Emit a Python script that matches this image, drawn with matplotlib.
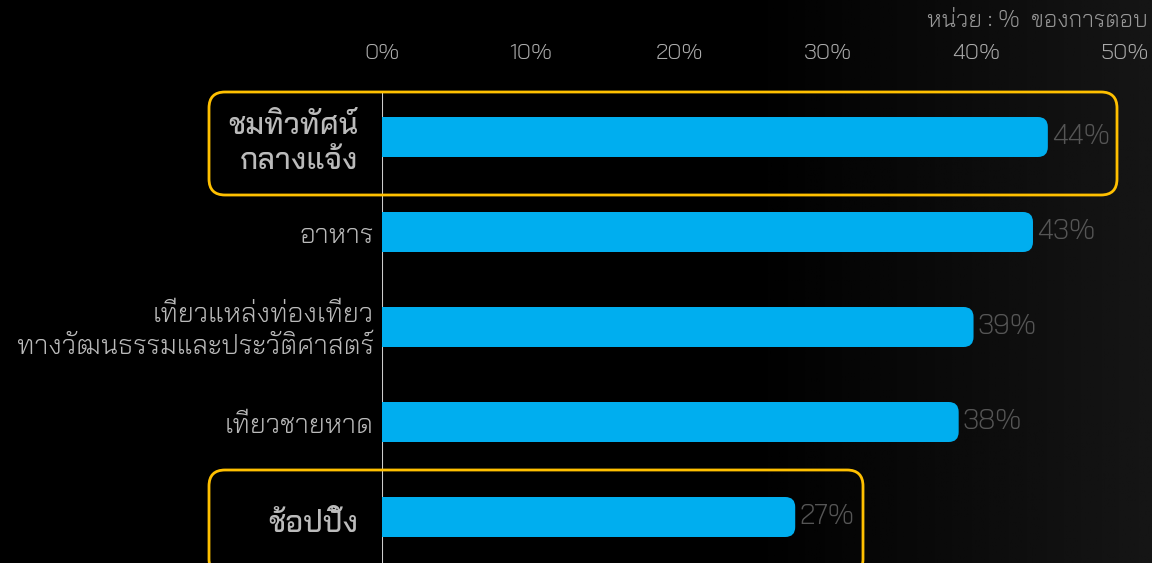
import numpy as np
import matplotlib
matplotlib.use("Agg")
import matplotlib.pyplot as plt
from matplotlib.patches import FancyBboxPatch, Rectangle

# data
categories = ["ชมทิวทัศน์\nกลางแจ้ง", "อาหาร",
              "เที่ยวแหล่งท่องเที่ยว\nทางวัฒนธรรมและประวัติศาสตร์",
              "เที่ยวชายหาด", "ช้อปปิ้ง"]
values = [44, 43, 39, 38, 27]
highlight = [True, False, False, False, True]
ticks = [0, 10, 20, 30, 40, 50]
tick_labels = ["0%", "10%", "20%", "30%", "40%", "50%"]
unit_text = "หน่วย : %  ของการตอบ"

plt.rcParams["font.family"] = ["Bai Jamjuree", "DejaVu Sans"]

W, H = 1152, 563
fig = plt.figure(figsize=(W / 100, H / 100), dpi=100)
fig.patch.set_facecolor("black")

# background: black on the left, fading to dark grey on the right
bg = fig.add_axes([0, 0, 1, 1], zorder=-5)
g = np.clip((np.linspace(0, 1, 400) - 0.65) / 0.35, 0, 1) * 0.085
bg.imshow(np.tile(g, (2, 1)), cmap="gray", vmin=0, vmax=1, aspect="auto",
          extent=[0, 1, 0, 1])
bg.axis("off")

x0, x1 = 382, 1125          # pixel positions of 0% and 50%
top = 92
ax = fig.add_axes([x0 / W, 0, (x1 - x0) / W, 1 - top / H])
ax.set_facecolor("none")
ax.set_xlim(0, 50)
ax.set_ylim((H - 137) / 95.0, (top - 137) / 95.0)

px_x = (x1 - x0) / 50.0     # pixels per % unit
px_y = 95.0                 # pixels per category
bh = 40 / px_y
cap = 12 / px_x             # rounded end overshoot
r = 10 / px_x
blue = "#00AEEF"

for i, v in enumerate(values):
    end = v + cap
    ax.add_patch(FancyBboxPatch((0, i - bh / 2), end, bh,
                                boxstyle=f"round,pad=0,rounding_size={r}",
                                mutation_aspect=px_x / px_y,
                                fc=blue, ec="none", zorder=3))
    ax.add_patch(Rectangle((0, i - bh / 2), end / 2, bh, fc=blue, ec="none", zorder=3))
    ax.text(end + 4 / px_x, i, f"{v}%", va="center", ha="left",
            fontsize=20, fontweight=300, color="#555555", zorder=4)

ax.axvline(0, color="#cccccc", lw=1.5, zorder=2)

ax.xaxis.tick_top()
ax.set_xticks(ticks)
ax.set_xticklabels(tick_labels, fontweight=300)
ax.tick_params(axis="x", length=0, pad=21, labelsize=16, labelcolor="#aaaaaa")
ax.set_yticks([])
for s in ax.spines.values():
    s.set_visible(False)

# category labels (nudged down a little: thai marks push the text box up)
for i, (c, hl) in enumerate(zip(categories, highlight)):
    if hl:
        yp = 1 - (137 + 95 * i + 7) / H
        fig.text(358 / W, yp, c, ha="right", va="center", fontsize=21.5,
                 fontweight=500, color="#bbbbbb", linespacing=1.4)
    else:
        yp = 1 - (137 + 95 * i + 4) / H
        fig.text(374 / W, yp, c, ha="right", va="center", fontsize=19.5,
                 fontweight=300, color="#bbbbbb", linespacing=1.25)

fig.text(1148 / W, 1 - 21 / H, unit_text, ha="right", va="center",
         fontsize=16.5, fontweight=300, color="#999999")

# highlight frames
asp = W / H
for (l, t, rr, b) in [(209, 92, 1117, 195), (209, 470, 863, 575)]:
    fig.patches.append(FancyBboxPatch((l / W, 1 - b / H), (rr - l) / W, (b - t) / H,
                                      boxstyle=f"round,pad=0,rounding_size={16 / W}",
                                      mutation_aspect=asp, fc="none", ec="#FFC000",
                                      lw=2, transform=fig.transFigure, figure=fig,
                                      zorder=5))

fig.savefig("out.png", dpi=100, facecolor=fig.get_facecolor())
